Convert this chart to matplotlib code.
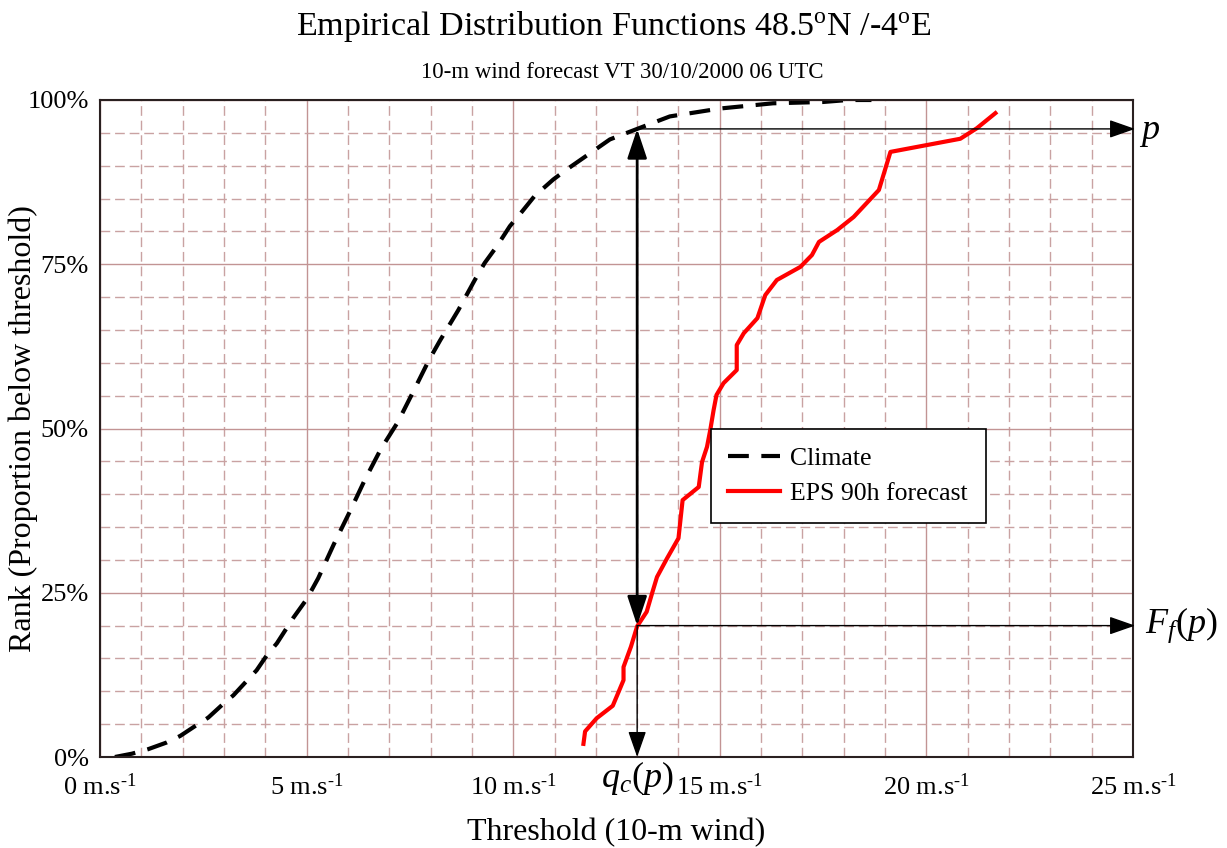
import matplotlib
matplotlib.use('Agg')
import matplotlib.pyplot as plt
import numpy as np
from matplotlib.ticker import MultipleLocator, FuncFormatter

plt.rcParams['font.family'] = ['Liberation Serif', 'DejaVu Serif']
plt.rcParams['mathtext.fontset'] = 'custom'
plt.rcParams['mathtext.rm'] = 'Liberation Serif'
plt.rcParams['mathtext.it'] = 'Liberation Serif:italic'

# climate CDF (m/s, %)
clim_x = [0.36, 0.77, 1.17, 1.61, 1.94, 2.30, 2.62, 2.95, 3.23, 3.79, 4.04, 4.28, 4.68, 5.0,
          5.28, 5.66, 6.05, 6.41, 6.80, 7.21, 7.58, 7.96, 8.23, 8.67, 9.07, 9.31, 9.60,
          9.92, 10.16, 10.52, 10.97, 11.29, 11.77, 12.34, 13.0, 13.79, 15.0, 16.29, 17.5,
          18.1, 18.67]
clim_y = [0, 0.5, 1.2, 2.2, 3.2, 4.7, 6.0, 7.9, 9.4, 13.2, 15.5, 17.3, 21.2, 24.0,
          27.2, 32.4, 37.4, 42.2, 46.9, 51.0, 55.6, 60.4, 63.4, 68.0, 72.6, 75.2, 77.7,
          80.8, 82.6, 85.4, 87.9, 89.4, 91.5, 94.0, 95.6, 97.5, 98.7, 99.5, 99.7,
          100, 100]

# EPS 90h forecast CDF
eps_x = [11.70, 11.74, 12.02, 12.41, 12.55, 12.67, 12.67, 12.85, 13.0, 13.23, 13.36, 13.48,
         13.72, 14.0, 14.1, 14.49, 14.57, 14.69, 14.77, 14.85, 14.92, 15.09, 15.41, 15.41,
         15.58, 15.91, 16.10, 16.38, 16.95, 17.23, 17.40, 17.84, 18.24, 18.85, 19.13, 20.82,
         21.22, 21.67]
eps_y = [2.0, 3.9, 5.9, 7.8, 9.9, 11.7, 13.7, 16.8, 19.9, 22.1, 24.9, 27.4,
         30.2, 33.3, 39.1, 41.1, 44.9, 47.2, 49.8, 52.8, 55.1, 56.9, 58.9, 62.7,
         64.5, 66.8, 70.3, 72.6, 74.6, 76.4, 78.4, 80.2, 82.2, 86.3, 92.1, 94.1,
         95.7, 98.0]

q_c = 13.0   # climate quantile
p = 95.6     # probability level
F_f = 20.0   # forecast CDF at q_c

fig = plt.figure(figsize=(12.27, 8.48), dpi=100)
ax = fig.add_axes([100/1227, 1-757/848, 1033/1227, 657/848])

ax.set_xlim(0, 25)
ax.set_ylim(0, 100)
ax.xaxis.set_major_locator(MultipleLocator(5))
ax.xaxis.set_minor_locator(MultipleLocator(1))
ax.yaxis.set_major_locator(MultipleLocator(25))
ax.yaxis.set_minor_locator(MultipleLocator(5))
ax.xaxis.set_major_formatter(FuncFormatter(lambda v, pos: '%d m.s$^{\\text{-1}}$' % v))
ax.yaxis.set_major_formatter(FuncFormatter(lambda v, pos: '%d%%' % v))
ax.tick_params(which='both', length=0, labelsize=19)
ax.tick_params(axis='x', pad=12)
ax.tick_params(axis='y', pad=8)

ax.grid(True, which='major', color='#c29494', lw=1.0, ls='-')
ax.grid(True, which='minor', color='#c9a2a2', lw=1.0, ls=(0, (7, 3.5)))
ax.set_axisbelow(True)
for s in ax.spines.values():
    s.set_color('#2a2020')
    s.set_linewidth(1.5)

ax.plot(clim_x, clim_y, color='black', lw=3.0, dashes=(5, 3), label='Climate')
ax.plot(eps_x, eps_y, color='red', lw=3.0, label='EPS 90h forecast')

# arrows
ax.annotate('', xy=(q_c, F_f), xytext=(q_c, p),
            arrowprops=dict(arrowstyle='<|-|>,head_length=0.9,head_width=0.3', color='black',
                            lw=2.0, shrinkA=0, shrinkB=0, mutation_scale=20))
thin = dict(arrowstyle='-|>,head_length=0.8,head_width=0.28', color='black', lw=1.0,
            shrinkA=0, shrinkB=0, mutation_scale=20)
ax.annotate('', xy=(25.05, p), xytext=(q_c, p), arrowprops=thin, annotation_clip=False)
ax.annotate('', xy=(25.05, F_f), xytext=(q_c, F_f), arrowprops=thin, annotation_clip=False)
ax.annotate('', xy=(q_c, 0), xytext=(q_c, F_f), arrowprops=thin, annotation_clip=False)

ax.text(25.15, p - 0.6, '$p$', fontsize=26, va='center', ha='left', clip_on=False)
ax.text(25.3, F_f, '$F_f(p)$', fontsize=26, va='center', ha='left', clip_on=False)
ax.text(q_c, -0.3, '$q_c(p)$', fontsize=26, va='top', ha='center', clip_on=False)

leg = ax.legend(loc='upper left', bbox_to_anchor=(0.591, 0.499), borderaxespad=0,
                fontsize=18.5, fancybox=False, framealpha=1, edgecolor='black',
                handlelength=2.0, handletextpad=0.4, borderpad=0.7, labelspacing=0.48)
leg.get_frame().set_linewidth(1.2)

ax.set_xlabel('Threshold (10-m wind)', fontsize=23)
ax.xaxis.set_label_coords(0.5, -0.092)
ax.set_ylabel('Rank (Proportion below threshold)', fontsize=23)
ax.yaxis.set_label_coords(-0.06, 0.5)

fig.text(0.5, 1-27/848, 'Empirical Distribution Functions 48.5$^{\\mathrm{o}}$N /-4$^{\\mathrm{o}}$E',
         fontsize=24.5, ha='center', va='center')
fig.text(0.507, 1-72/848, '10-m wind forecast VT 30/10/2000 06 UTC', fontsize=16.5,
         ha='center', va='center')

fig.savefig('out.png', dpi=100)
